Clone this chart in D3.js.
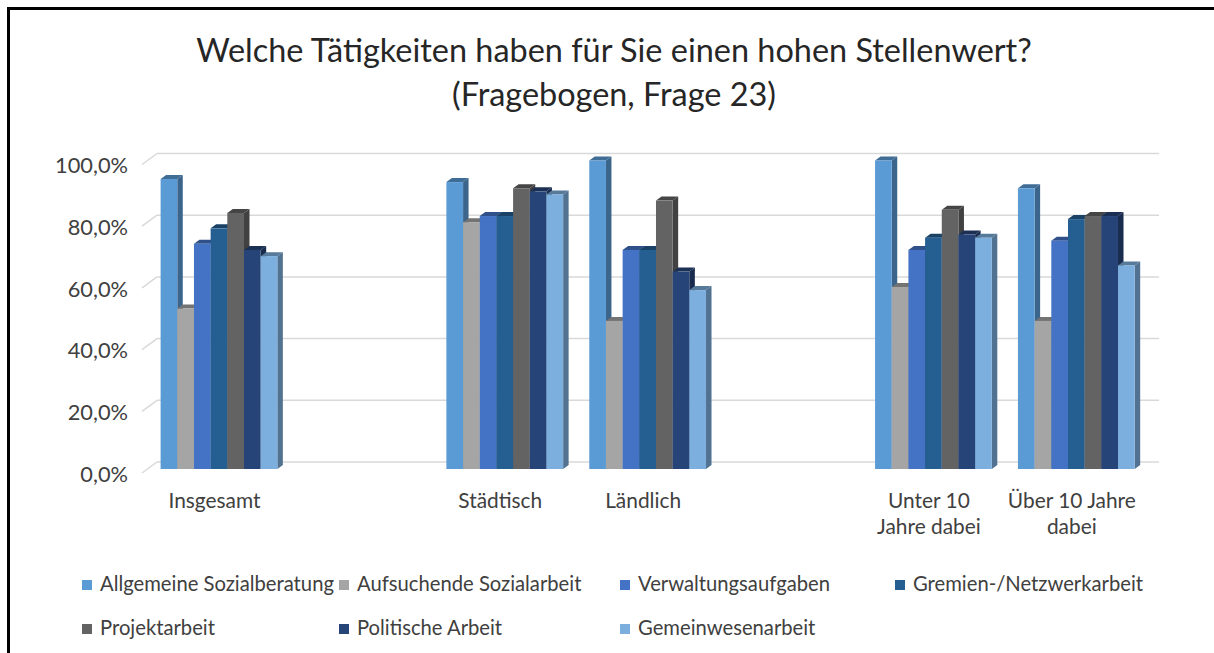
<!DOCTYPE html>
<html>
<head>
<meta charset="utf-8">
<script src="https://cdn.jsdelivr.net/npm/d3@7"></script>
<style>
  body { margin: 0; background: #fff; }
  svg { display: block; }
</style>
</head>
<body>
<div id="container"></div>
<script>
// Data
const categories = ["Insgesamt", "", "Städtisch", "Ländlich", "", "Unter 10\nJahre dabei", "Über 10 Jahre\ndabei"];
const seriesNames = ["Allgemeine Sozialberatung", "Aufsuchende Sozialarbeit", "Verwaltungsaufgaben",
                     "Gremien-/Netzwerkarbeit", "Projektarbeit", "Politische Arbeit", "Gemeinwesenarbeit"];
const allgemeine  = [0.94, null, 0.93, 1.00, null, 1.00, 0.91];
const aufsuchende = [0.52, null, 0.80, 0.48, null, 0.59, 0.48];
const verwaltung  = [0.73, null, 0.82, 0.71, null, 0.71, 0.74];
const gremien     = [0.78, null, 0.82, 0.71, null, 0.75, 0.81];
const projekt     = [0.83, null, 0.91, 0.87, null, 0.84, 0.82];
const politisch   = [0.71, null, 0.90, 0.64, null, 0.76, 0.82];
const gemeinwesen = [0.69, null, 0.89, 0.58, null, 0.75, 0.66];
const seriesValues = [allgemeine, aufsuchende, verwaltung, gremien, projekt, politisch, gemeinwesen];
const colors = ["#5B9BD5", "#A5A5A5", "#4472C4", "#255E91", "#636363", "#264478", "#7CAFDD"];
const yTicks = [0, 0.2, 0.4, 0.6, 0.8, 1.0];

const width = 1214;
const height = 653;
const FONT = "Lato, 'Open Sans', sans-serif";
const textColor = "#404040";

const svg = d3.select('#container')
              .append('svg')
              .attr('width', width)
              .attr('height', height);

svg.append('rect').attr('width', width).attr('height', height).attr('fill', '#fff');

// frame (left + top edges visible)
svg.append('path')
   .attr('d', `M8.5,${height} V8.5 H${width}`)
   .attr('fill', 'none')
   .attr('stroke', '#000')
   .attr('stroke-width', 3);

// size a font so that a sample string gets a given width
function fitSize(sample, target, base = 20) {
  const t = svg.append('text').style('font-family', FONT).style('font-size', base + 'px').text(sample);
  const w = t.node().getComputedTextLength();
  t.remove();
  return base * target / w;
}

const titleSize = fitSize("Welche Tätigkeiten haben für Sie einen hohen Stellenwert?", 836, 30);
const tickSize = fitSize("Insgesamt", 92);
const ySize = fitSize("100,0%", 73);
const legendSize = fitSize("Allgemeine Sozialberatung", 234);

// scales
const wallLeft = 157, wallRight = 1159;
const floorDx = 15, floorDy = 11;   // side wall depth
const barDx = 5.5, barDy = 4;       // bar depth
const frontDy = 7;                  // bar front sits in front of the back wall

const x = d3.scaleBand()
            .domain(d3.range(categories.length))
            .range([147.5, 1147.8])
            .paddingInner(0.183)
            .paddingOuter(0.0917);
const xs = d3.scaleBand().domain(d3.range(seriesNames.length)).range([0, x.bandwidth()]);
const y = d3.scaleLinear().domain([0, 1]).range([462, 153.5]);

const de = d3.formatLocale({decimal: ",", thousands: ".", grouping: [3], currency: ["", "€"]});
const fmt = de.format(".1%");

// gridlines on back wall + side wall
const grid = svg.append('g');
grid.selectAll('line.h')
    .data(yTicks)
    .enter().append('line')
    .attr('x1', wallLeft).attr('x2', wallRight)
    .attr('y1', d => y(d)).attr('y2', d => y(d))
    .attr('stroke', '#d9d9d9').attr('stroke-width', 1.5);
grid.selectAll('line.d')
    .data(yTicks)
    .enter().append('line')
    .attr('x1', wallLeft).attr('x2', wallLeft - floorDx)
    .attr('y1', d => y(d)).attr('y2', d => y(d) + floorDy)
    .attr('stroke', '#d9d9d9').attr('stroke-width', 1.5);

// y labels
svg.append('g').selectAll('text')
   .data(yTicks)
   .enter().append('text')
   .attr('x', 128)
   .attr('y', d => y(d) + 12)
   .attr('dy', '0.35em')
   .attr('text-anchor', 'end')
   .style('font-family', FONT).style('font-size', ySize + 'px')
   .attr('fill', textColor)
   .text(d => fmt(d));

// bars
const bars = svg.append('g');
categories.forEach((cat, i) => {
  seriesValues.forEach((vals, j) => {
    const v = vals[i];
    if (v == null) return;
    const x0 = x(i) + xs(j);
    const w = xs.bandwidth();
    const yTop = y(v) + frontDy;
    const yBot = y(0) + frontDy;
    const c = d3.color(colors[j]);
    const g = bars.append('g');
    g.append('polygon')
     .attr('points', [[x0, yTop], [x0 + barDx, yTop - barDy], [x0 + w + barDx, yTop - barDy], [x0 + w, yTop]].join(' '))
     .attr('fill', c.darker(1.0));
    g.append('polygon')
     .attr('points', [[x0 + w, yTop], [x0 + w + barDx, yTop - barDy], [x0 + w + barDx, yBot - barDy], [x0 + w, yBot]].join(' '))
     .attr('fill', c.darker(1.2));
    g.append('rect')
     .attr('x', x0).attr('y', yTop)
     .attr('width', w).attr('height', yBot - yTop)
     .attr('fill', colors[j]);
  });
});

// category labels
const ticks = svg.append('g');
categories.forEach((cat, i) => {
  if (!cat) return;
  const t = ticks.append('text')
                 .attr('text-anchor', 'middle')
                 .style('font-family', FONT).style('font-size', tickSize + 'px')
                 .attr('fill', textColor);
  cat.split('\n').forEach((line, k) => {
    t.append('tspan')
     .attr('x', x(i) + x.bandwidth() / 2 - 4.5)
     .attr('y', 508 + k * 26)
     .text(line);
  });
});

// title
svg.append('text')
   .attr('x', 614).attr('y', 62)
   .attr('text-anchor', 'middle')
   .style('font-family', FONT).style('font-size', titleSize + 'px')
   .attr('fill', '#262626')
   .text("Welche Tätigkeiten haben für Sie einen hohen Stellenwert?");
svg.append('text')
   .attr('x', 614).attr('y', 106)
   .attr('text-anchor', 'middle')
   .style('font-family', FONT).style('font-size', titleSize + 'px')
   .attr('fill', '#262626')
   .text("(Fragebogen, Frage 23)");

// legend, 4 columns
const legendCols = [82, 339, 620, 895], legendRowY = [591, 635];
const legend = svg.append('g');
seriesNames.forEach((name, j) => {
  const col = j % 4, row = Math.floor(j / 4);
  const lx = legendCols[col];
  const ly = legendRowY[row];
  legend.append('rect')
        .attr('x', lx).attr('y', ly - 11)
        .attr('width', 10).attr('height', 10)
        .attr('fill', colors[j]);
  legend.append('text')
        .attr('x', lx + 18).attr('y', ly)
        .style('font-family', FONT).style('font-size', legendSize + 'px')
        .attr('fill', textColor)
        .text(name);
});
</script>
</body>
</html>
